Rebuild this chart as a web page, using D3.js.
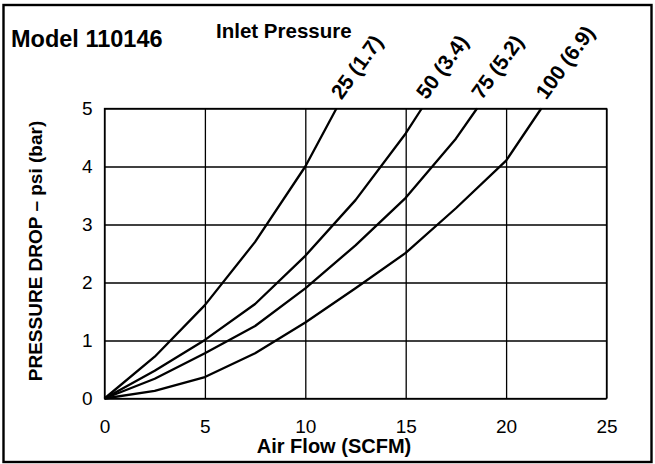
<!DOCTYPE html>
<html>
<head>
<meta charset="utf-8">
<script src="https://cdn.jsdelivr.net/npm/d3@7"></script>
<style>
  body { margin: 0; background: #fff; }
  text { font-family: "Liberation Sans", Arial, Helvetica, sans-serif; fill: #000; }
</style>
</head>
<body>
<div id="chart"></div>
<script>
// Air flow (SCFM) vs pressure drop (psi) for each inlet pressure
const xTicks = [0, 5, 10, 15, 20, 25];
const yTicks = [0, 1, 2, 3, 4, 5];
const inletLabels = ["25 (1.7)", "50 (3.4)", "75 (5.2)", "100 (6.9)"];

const flow25 = [0, 2.5, 5, 7.5, 10, 11.55];
const drop25 = [0, 0.72, 1.61, 2.70, 4.0, 5.0];

const flow50 = [0, 2.5, 5, 7.5, 10, 12.5, 15, 15.8];
const drop50 = [0, 0.48, 1.01, 1.63, 2.46, 3.42, 4.57, 5.0];

const flow75 = [0, 2.5, 5, 7.5, 10, 12.5, 15, 17.5, 18.55];
const drop75 = [0, 0.34, 0.78, 1.25, 1.90, 2.64, 3.46, 4.48, 5.0];

const flow100 = [0, 2.5, 5, 7.5, 10, 12.5, 15, 17.5, 20, 21.75];
const drop100 = [0, 0.13, 0.37, 0.78, 1.31, 1.90, 2.51, 3.28, 4.10, 5.0];

const seriesFlow = [flow25, flow50, flow75, flow100];
const seriesDrop = [drop25, drop50, drop75, drop100];

const WIDTH = 655, HEIGHT = 464;
const margin = {top: 108.5, right: 48.5, bottom: 65.5, left: 104.5};
const width  = WIDTH - margin.left - margin.right,
      height = HEIGHT - margin.top - margin.bottom;

const svg = d3.select("#chart")
              .append("svg")
                .attr("width", WIDTH)
                .attr("height", HEIGHT);

// outer frame
svg.append("rect")
   .attr("x", 3.5).attr("y", 5)
   .attr("width", 648).attr("height", 457)
   .attr("fill", "none")
   .attr("stroke", "#000")
   .attr("stroke-width", 2.4);

const g = svg.append("g")
             .attr("transform", `translate(${margin.left}, ${margin.top})`);

const x = d3.scaleLinear().domain([0, 25]).range([0, width]);
const y = d3.scaleLinear().domain([0, 5]).range([height, 0]);

// X axis + vertical grid
const xAxis = g.append("g")
   .attr("transform", `translate(0, ${height})`)
   .call(d3.axisBottom(x).tickValues(xTicks).tickFormat(d3.format("d"))
          .tickSize(-height).tickPadding(21));
xAxis.select(".domain").remove();
xAxis.selectAll("line").attr("stroke", "#000").attr("stroke-width", 1.3);
xAxis.selectAll("text").style("font-size", "19px").style("font-family", null);

// Y axis + horizontal grid
const yAxis = g.append("g")
   .call(d3.axisLeft(y).tickValues(yTicks).tickFormat(d3.format("d"))
          .tickSize(-width).tickPadding(12));
yAxis.select(".domain").remove();
yAxis.selectAll("line").attr("stroke", "#000").attr("stroke-width", 1.3);
yAxis.selectAll("text").style("font-size", "19px").style("font-family", null);

// plot border
g.append("rect")
 .attr("width", width).attr("height", height)
 .attr("fill", "none")
 .attr("stroke", "#000")
 .attr("stroke-width", 1.3);

// curves
const line = d3.line().x(d => x(d[0])).y(d => y(d[1]));
seriesFlow.forEach((fl, i) => {
    const pts = fl.map((v, j) => [v, seriesDrop[i][j]]);
    g.append("path")
     .datum(pts)
     .attr("d", line)
     .attr("fill", "none")
     .attr("stroke", "#000")
     .attr("stroke-width", 2.3)
     .attr("stroke-linejoin", "round");

    // rotated inlet-pressure label at the end of each curve
    const last = fl.length - 1;
    g.append("text")
     .attr("transform", `translate(${x(fl[last]) + 5}, ${y(seriesDrop[i][last]) - 8}) rotate(-54)`)
     .style("font-size", "21px")
     .style("font-weight", "bold")
     .text(inletLabels[i]);
});

// titles
svg.append("text")
   .attr("x", 11).attr("y", 47)
   .style("font-size", "23.5px")
   .style("font-weight", "bold")
   .text("Model 110146");

svg.append("text")
   .attr("x", 216).attr("y", 38)
   .style("font-size", "20.5px")
   .style("font-weight", "bold")
   .text("Inlet Pressure");

svg.append("text")
   .attr("x", 334).attr("y", 453)
   .attr("text-anchor", "middle")
   .style("font-size", "20px")
   .style("font-weight", "bold")
   .text("Air Flow (SCFM)");

svg.append("text")
   .attr("transform", "translate(41.5, 251) rotate(-90)")
   .attr("text-anchor", "middle")
   .style("font-size", "19px")
   .style("font-weight", "bold")
   .text("PRESSURE DROP – psi (bar)");
</script>
</body>
</html>
